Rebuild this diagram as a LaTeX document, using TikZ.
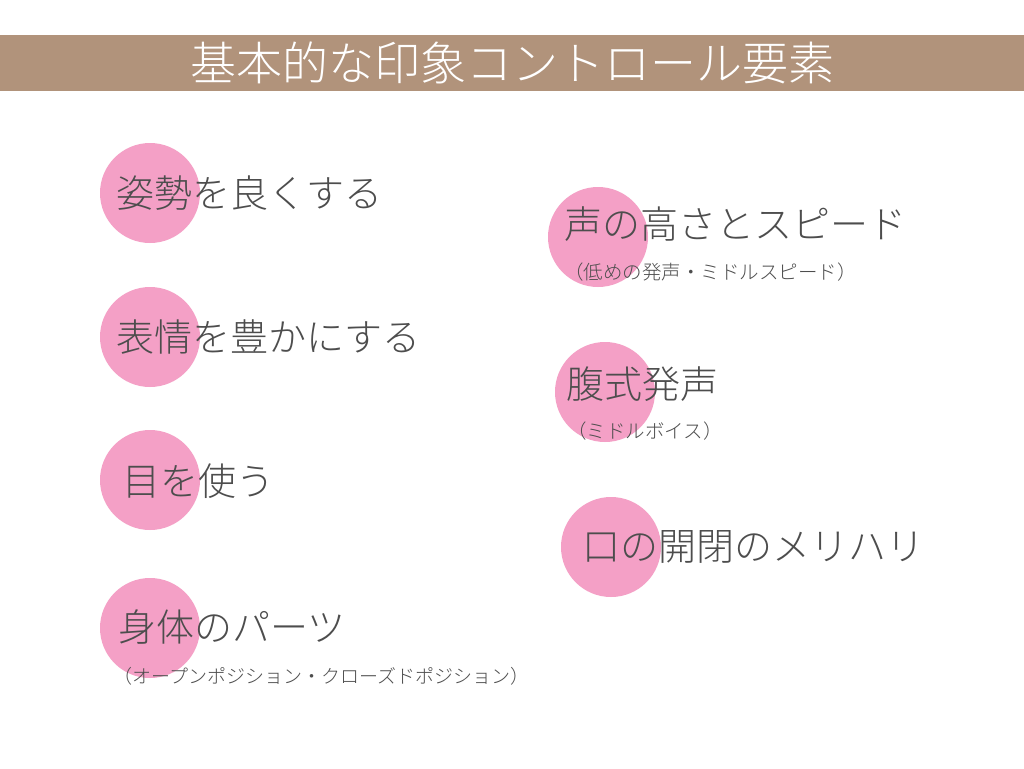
\documentclass[tikz,border=0pt]{standalone}
\usepackage{fontspec}
\usepackage{tikz}
\newfontfamily\jpfont{Noto Sans CJK JP}[UprightFont={* Light}]
\definecolor{bandbrown}{HTML}{B1937B}
\definecolor{dotpink}{HTML}{F4A0C6}
\definecolor{textgray}{HTML}{4D4D4D}
\tikzset{
  dot/.style = {shape = circle, fill = dotpink, minimum size = 100pt, inner sep = 0pt},
  item/.style = {anchor = west, inner sep = 0pt, text = textgray, font = \jpfont\fontsize{38}{44}\selectfont},
  note/.style = {anchor = west, inner sep = 0pt, text = textgray, font = \jpfont\fontsize{19.5}{23}\selectfont}
}

\begin{document}
\begin{tikzpicture}[x=1pt,y=-1pt]
\useasboundingbox[fill=white] (0,0) rectangle (1024,768);
\node[fill = bandbrown, minimum width = 1024pt, minimum height = 56pt, inner sep = 0pt,
  text = white, font = \jpfont\fontsize{46}{50}\selectfont] (title) at (512,63) {基本的な印象コントロール要素};

\node[dot] (c1) at (150,193) {};
\node[dot] (c2) at (150,337) {};
\node[dot] (c3) at (150,480) {};
\node[dot] (c4) at (150,628) {};
\node[dot] (c5) at (598,237) {};
\node[dot] (c6) at (605,392) {};
\node[dot] (c7) at (611,547) {};

\node[item] (posture) at (116,193) {姿勢を良くする};
\node[item] (face) at (116,337) {表情を豊かにする};
\node[item] (eyes) at (122,481) {目を使う};
\node[item] (body) at (118,627) {身体のパーツ};
\node[note, font = \jpfont\fontsize{19}{23}\selectfont] (bodynote) at (113,676) {（オープンポジション・クローズドポジション）};

\node[item] (pitch) at (564,224) {声の高さとスピード};
\node[note] (pitchnote) at (564,272) {（低めの発声・ミドルスピード）};
\node[item] (belly) at (566,384) {腹式発声};
\node[note] (bellynote) at (567,431) {（ミドルボイス）};
\node[item] (mouth) at (582,547) {口の開閉のメリハリ};
\end{tikzpicture}
\end{document}
